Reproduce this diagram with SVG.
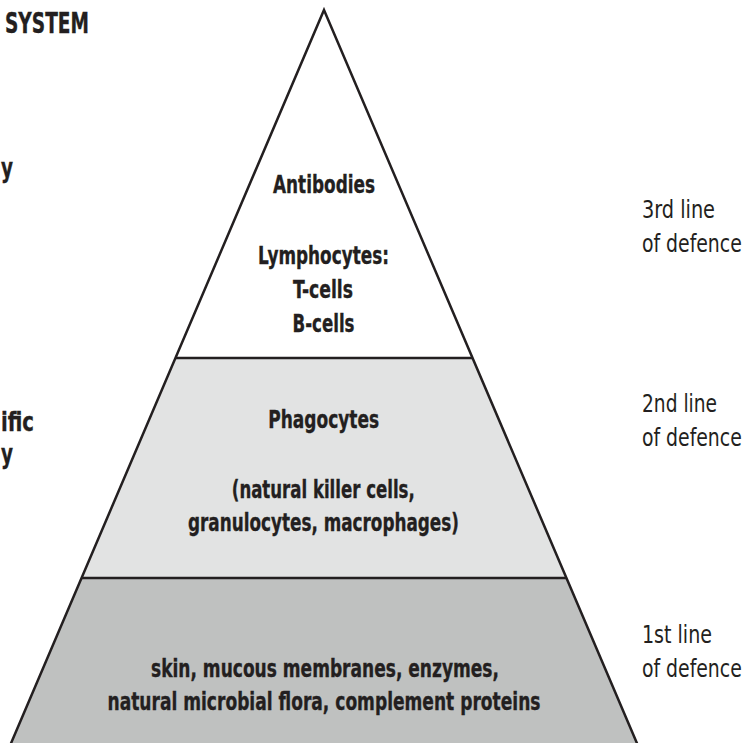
<svg xmlns="http://www.w3.org/2000/svg" width="748" height="743" viewBox="0 0 748 743">
<style>
.b{font-family:"DejaVu Sans Condensed","Liberation Sans",sans-serif;font-weight:bold;font-size:25px;fill:#231f20;stroke:#231f20;stroke-width:0.35;text-anchor:middle}
.r{font-family:"DejaVu Sans Condensed","Liberation Sans",sans-serif;font-size:25px;fill:#231f20}
.h{font-family:"DejaVu Sans Condensed","Liberation Sans",sans-serif;font-weight:bold;font-size:29px;fill:#231f20;stroke:#231f20;stroke-width:0.35}
.s{font-family:"DejaVu Sans Condensed","Liberation Sans",sans-serif;font-weight:bold;font-size:27px;fill:#231f20;stroke:#231f20;stroke-width:0.35}
.edge{fill:none;stroke:#231f20;stroke-width:2.5;stroke-linejoin:miter}
</style>
<rect width="748" height="743" fill="#ffffff"/>
<g id="tier3">
<polygon points="324,10 473,358 175,358" fill="#ffffff"/>
<text class="b" x="324" y="193" textLength="102" lengthAdjust="spacingAndGlyphs">Antibodies</text>
<text class="b" x="323.5" y="264" textLength="131" lengthAdjust="spacingAndGlyphs">Lymphocytes:</text>
<text class="b" x="323" y="298" textLength="60" lengthAdjust="spacingAndGlyphs">T-cells</text>
<text class="b" x="323.5" y="332" textLength="62" lengthAdjust="spacingAndGlyphs">B-cells</text>
</g>
<g id="tier2">
<polygon points="175,358 473,358 567,578 81,578" fill="#e2e3e3"/>
<text class="b" x="323.7" y="428" textLength="111" lengthAdjust="spacingAndGlyphs">Phagocytes</text>
<text class="b" x="323.3" y="498" textLength="183" lengthAdjust="spacingAndGlyphs">(natural killer cells,</text>
<text class="b" x="323.5" y="531" textLength="271" lengthAdjust="spacingAndGlyphs">granulocytes, macrophages)</text>
</g>
<g id="tier1">
<polygon points="81,578 567,578 642,755 6,755" fill="#bfc1c0"/>
<text class="b" x="325" y="677" textLength="348" lengthAdjust="spacingAndGlyphs">skin, mucous membranes, enzymes,</text>
<text class="b" x="324" y="710" textLength="433" lengthAdjust="spacingAndGlyphs">natural microbial flora, complement proteins</text>
</g>
<g id="connectors">
<polygon class="edge" points="324,10 642,755 6,755"/>
<line class="edge" x1="175" y1="358" x2="473" y2="358"/>
<line class="edge" x1="81" y1="578" x2="567" y2="578"/>
</g>
<g id="labels-right" transform="translate(642,0) scale(0.75,1)">
<text class="r" x="0" y="218" textLength="97.3" lengthAdjust="spacingAndGlyphs">3rd line</text>
<text class="r" x="0" y="252" textLength="133" lengthAdjust="spacingAndGlyphs">of defence</text>
<text class="r" x="0" y="412" textLength="100" lengthAdjust="spacingAndGlyphs">2nd line</text>
<text class="r" x="0" y="446" textLength="133" lengthAdjust="spacingAndGlyphs">of defence</text>
<text class="r" x="0" y="643" textLength="93.3" lengthAdjust="spacingAndGlyphs">1st line</text>
<text class="r" x="0" y="677" textLength="133" lengthAdjust="spacingAndGlyphs">of defence</text>
</g>
<g id="labels-left">
<text class="h" x="5" y="33" textLength="84" lengthAdjust="spacingAndGlyphs">SYSTEM</text>
<text class="s" x="1" y="177" textLength="12" lengthAdjust="spacingAndGlyphs">y</text>
<text class="s" x="1" y="431" textLength="33" lengthAdjust="spacingAndGlyphs">ific</text>
<text class="s" x="1" y="463" textLength="12" lengthAdjust="spacingAndGlyphs">y</text>
</g>
</svg>
